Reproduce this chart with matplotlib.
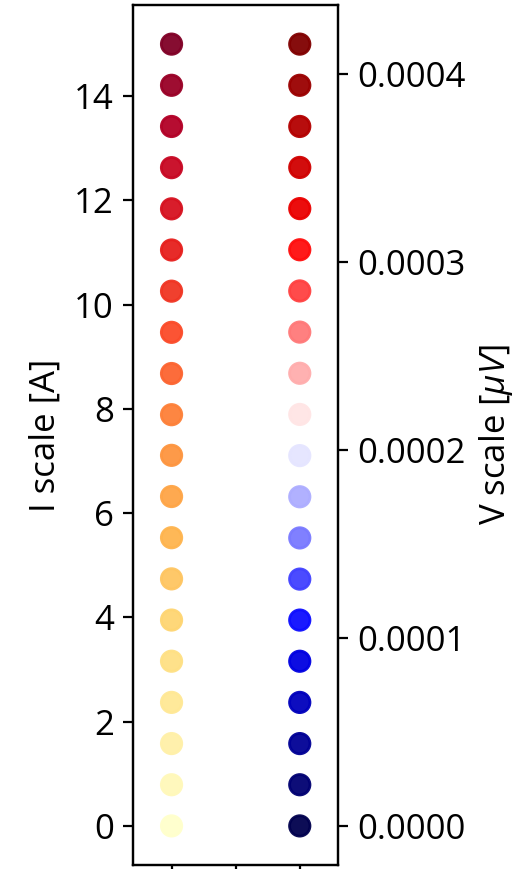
import numpy as np
import matplotlib
matplotlib.use("Agg")
import matplotlib.pyplot as plt

plt.rcParams['font.family'] = ['Open Sans', 'DejaVu Sans']
plt.rcParams['font.size'] = 12.5
plt.rcParams['mathtext.fontset'] = 'custom'
plt.rcParams['mathtext.rm'] = 'Open Sans'
plt.rcParams['mathtext.it'] = 'Open Sans:italic'

## datos
I_vals = np.array([0.0, 0.79, 1.58, 2.37, 3.16, 3.95, 4.74, 5.53, 6.32, 7.11,
                   7.89, 8.68, 9.47, 10.26, 11.05, 11.84, 12.63, 13.42, 14.21, 15.0])
V_vals = np.array([0.0, 0.219, 0.438, 0.657, 0.876, 1.095, 1.313, 1.532, 1.751, 1.970,
                   2.189, 2.408, 2.627, 2.846, 3.065, 3.284, 3.503, 3.721, 3.940, 4.159]) * 1e-4
I_ticks = [0, 2, 4, 6, 8, 10, 12, 14]
V_ticks = [0.0, 0.0001, 0.0002, 0.0003, 0.0004]

fig = plt.figure(figsize=(2.63, 4.345), dpi=200)
ax = fig.add_axes([0.253, 0.0046, 0.390, 0.9896])
ax.scatter(np.zeros(len(I_vals)), I_vals, c=I_vals, cmap='YlOrRd', s=54, alpha=0.95)
ax.set_yticks(I_ticks)
ax.set_ylabel('I scale [A]')
ax.set_xlim(-0.3, 1.3)
ax.set_xticks([0, 0.5, 1])
ax.set_xticklabels(['', '', ''])

ax2 = ax.twinx()
ax2.scatter(np.ones(len(V_vals)), V_vals, c=V_vals, cmap='seismic', s=54, alpha=0.95)
ax2.set_yticks(V_ticks)
ax2.set_yticklabels(['%.4f' % v for v in V_ticks])
ax2.set_ylabel(r'V scale [$\mu V$]')
ax2.set_xlim(-0.3, 1.3)

fig.savefig('out.png', dpi=200)
